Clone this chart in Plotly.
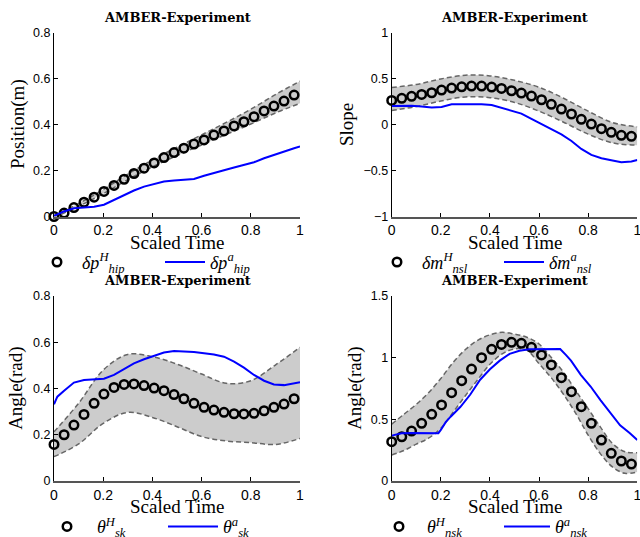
import plotly.graph_objects as go

# ---------------- data ----------------
MARKER_X = [0.000, 0.041, 0.081, 0.122, 0.163, 0.203, 0.244, 0.285, 0.325, 0.366,
            0.407, 0.447, 0.488, 0.528, 0.569, 0.610, 0.650, 0.691, 0.732, 0.772,
            0.813, 0.854, 0.894, 0.935, 0.976]
LINE_X = MARKER_X + [1.0]
BAND_X = [0.0, 0.1, 0.2, 0.3, 0.4, 0.5, 0.6, 0.7, 0.8, 0.9, 1.0]
BAND_X4 = [0.0, 0.05, 0.1, 0.15, 0.2, 0.25, 0.3, 0.35, 0.4, 0.45, 0.5,
           0.55, 0.6, 0.65, 0.7, 0.75, 0.8, 0.85, 0.9, 0.95, 1.0]

# panel 1 : hip position
hip_human = [0.000, 0.015, 0.039, 0.062, 0.084, 0.109, 0.135, 0.162, 0.187, 0.210,
             0.233, 0.256, 0.278, 0.297, 0.315, 0.333, 0.354, 0.372, 0.394, 0.412,
             0.434, 0.459, 0.480, 0.502, 0.528]
hip_upper = [0.004, 0.056, 0.117, 0.184, 0.246, 0.301, 0.355, 0.409, 0.466, 0.530, 0.588]
hip_lower = [-0.004, 0.044, 0.099, 0.160, 0.216, 0.265, 0.311, 0.357, 0.402, 0.450, 0.492]
hip_amber = [0.003, 0.022, 0.036, 0.039, 0.042, 0.051, 0.072, 0.094, 0.113, 0.130,
             0.142, 0.152, 0.156, 0.158, 0.163, 0.177, 0.190, 0.201, 0.213, 0.224,
             0.236, 0.253, 0.268, 0.282, 0.297, 0.304]

# panel 2 : non-stance slope
nsl_human = [0.262, 0.284, 0.306, 0.327, 0.345, 0.374, 0.396, 0.410, 0.418, 0.418,
             0.407, 0.392, 0.367, 0.342, 0.309, 0.269, 0.219, 0.168, 0.114, 0.056,
             0.005, -0.045, -0.085, -0.118, -0.128]
nsl_upper = [0.403, 0.435, 0.495, 0.536, 0.528, 0.480, 0.405, 0.285, 0.145, 0.020, -0.025]
nsl_lower = [0.153, 0.195, 0.255, 0.300, 0.292, 0.240, 0.145, 0.025, -0.105, -0.200, -0.225]
nsl_amber = [0.200, 0.204, 0.204, 0.197, 0.186, 0.190, 0.219, 0.219, 0.222, 0.219,
             0.212, 0.183, 0.154, 0.118, 0.060, 0.005, -0.052, -0.107, -0.179, -0.266,
             -0.331, -0.367, -0.389, -0.410, -0.403, -0.385]

# panel 3 : stance knee
sk_human = [0.157, 0.199, 0.241, 0.287, 0.335, 0.375, 0.404, 0.417, 0.419, 0.412,
            0.401, 0.390, 0.373, 0.355, 0.335, 0.318, 0.306, 0.296, 0.290, 0.289,
            0.292, 0.303, 0.318, 0.332, 0.355]
sk_upper = [0.212, 0.335, 0.479, 0.547, 0.537, 0.505, 0.462, 0.422, 0.433, 0.501, 0.578]
sk_lower = [0.104, 0.159, 0.248, 0.296, 0.274, 0.234, 0.191, 0.172, 0.165, 0.157, 0.183]
SK_LINE_X = [0.0, 0.0136] + MARKER_X[1:] + [1.0]
sk_amber = [0.331, 0.364, 0.390, 0.425, 0.436, 0.439, 0.442, 0.458, 0.484, 0.508,
            0.526, 0.540, 0.555, 0.562, 0.560, 0.557, 0.552, 0.547, 0.537, 0.516,
            0.490, 0.458, 0.433, 0.417, 0.414, 0.422, 0.426]

# panel 4 : non-stance knee
nsk_human = [0.317, 0.357, 0.403, 0.466, 0.539, 0.615, 0.715, 0.812, 0.907, 0.999,
             1.067, 1.107, 1.124, 1.116, 1.083, 1.021, 0.940, 0.837, 0.723, 0.601,
             0.466, 0.330, 0.222, 0.160, 0.135]
nsk_upper = [0.46, 0.54, 0.62, 0.715, 0.83, 0.96, 1.065, 1.14, 1.185, 1.205, 1.19,
             1.165, 1.11, 1.00, 0.88, 0.73, 0.585, 0.435, 0.30, 0.235, 0.227]
nsk_lower = [0.209, 0.245, 0.297, 0.345, 0.426, 0.556, 0.69, 0.82, 0.945, 1.03, 1.07,
             1.06, 0.95, 0.835, 0.70, 0.545, 0.37, 0.218, 0.11, 0.06, 0.07]
NSK_LINE_X = [0.0, 0.04, 0.08, 0.12, 0.16, 0.19, 0.20, 0.22, 0.24, 0.28, 0.32, 0.36,
              0.40, 0.44, 0.48, 0.52, 0.56, 0.60, 0.64, 0.686, 0.71, 0.73, 0.77,
              0.81, 0.85, 0.89, 0.93, 0.97, 1.0]
nsk_amber = [0.366, 0.385, 0.387, 0.385, 0.384, 0.386, 0.412, 0.475, 0.520, 0.600,
             0.700, 0.820, 0.905, 0.975, 1.030, 1.055, 1.068, 1.070, 1.070, 1.070,
             1.020, 0.975, 0.860, 0.765, 0.655, 0.550, 0.450, 0.385, 0.330]

X_TICKS = [0, 0.2, 0.4, 0.6, 0.8, 1]
TITLE = "AMBER-Experiment"
XLABEL = "Scaled Time"

panels = [
    dict(band_x=BAND_X, upper=hip_upper, lower=hip_lower, human=hip_human,
         line_x=LINE_X, amber=hip_amber, yrange=[0, 0.8], yticks=[0, 0.2, 0.4, 0.6, 0.8],
         ylabel="Position(m)",
         names=("<i>δp</i><sup><i>H</i></sup><sub><i>hip</i></sub>",
                "<i>δp</i><sup><i>a</i></sup><sub><i>hip</i></sub>")),
    dict(band_x=BAND_X, upper=nsl_upper, lower=nsl_lower, human=nsl_human,
         line_x=LINE_X, amber=nsl_amber, yrange=[-1, 1], yticks=[-1, -0.5, 0, 0.5, 1],
         ylabel="Slope",
         names=("<i>δm</i><sup><i>H</i></sup><sub><i>nsl</i></sub>",
                "<i>δm</i><sup><i>a</i></sup><sub><i>nsl</i></sub>")),
    dict(band_x=BAND_X, upper=sk_upper, lower=sk_lower, human=sk_human,
         line_x=SK_LINE_X, amber=sk_amber, yrange=[0, 0.8], yticks=[0, 0.2, 0.4, 0.6, 0.8],
         ylabel="Angle(rad)",
         names=("<i>θ</i><sup><i>H</i></sup><sub><i>sk</i></sub>",
                "<i>θ</i><sup><i>a</i></sup><sub><i>sk</i></sub>")),
    dict(band_x=BAND_X4, upper=nsk_upper, lower=nsk_lower, human=nsk_human,
         line_x=NSK_LINE_X, amber=nsk_amber, yrange=[0, 1.5], yticks=[0, 0.5, 1, 1.5],
         ylabel="Angle(rad)",
         names=("<i>θ</i><sup><i>H</i></sup><sub><i>nsk</i></sub>",
                "<i>θ</i><sup><i>a</i></sup><sub><i>nsk</i></sub>")),
]

# ---------------- layout geometry (page pixels) ----------------
W, H = 640, 537
cols = [(54, 300), (391.7, 637.3)]
rows = [(32.5, 216.5), (296, 480.7)]
ylabel_x = [17.5, 346.5, 16.5, 355.5]
legend_x = [32, 372, 37, 371]
legend_y = [262.3, 262.3, 526.7, 526.7]
legend_item = [40, 40, 50, 46]
legend_entry = [73, 72, 61, 67]

def px(x):
    return x / W

def py(y):
    return 1 - y / H

fig = go.Figure()
annotations = []
layout = {}

for i, p in enumerate(panels):
    r, c = divmod(i, 2)
    n = "" if i == 0 else str(i + 1)
    xa, ya = "x" + n, "y" + n
    leg = "legend" + n
    band_line = dict(color="#666666", width=1.5, dash="5px,3px", shape="spline")
    fig.add_trace(go.Scatter(x=p["band_x"], y=p["lower"], mode="lines", line=band_line,
                             xaxis=xa, yaxis=ya, showlegend=False, hoverinfo="skip"))
    fig.add_trace(go.Scatter(x=p["band_x"], y=p["upper"], mode="lines", line=band_line,
                             fill="tonexty", fillcolor="#cccccc",
                             xaxis=xa, yaxis=ya, showlegend=False, hoverinfo="skip"))
    fig.add_trace(go.Scatter(x=MARKER_X, y=p["human"], mode="markers", name=p["names"][0],
                             marker=dict(symbol="circle-open", size=8.5, color="black",
                                         line=dict(width=2.5, color="black")),
                             cliponaxis=False, xaxis=xa, yaxis=ya, legend=leg))
    fig.add_trace(go.Scatter(x=p["line_x"], y=p["amber"], mode="lines", name=p["names"][1],
                             line=dict(color="#0000ff", width=2),
                             xaxis=xa, yaxis=ya, legend=leg))

    x0, x1 = cols[c]
    y0, y1 = rows[r]
    layout["xaxis" + n] = dict(
        domain=[px(x0), px(x1)], anchor=ya, range=[0, 1], tickvals=X_TICKS,
        ticks="inside", ticklen=4, tickcolor="black", showgrid=False, zeroline=False,
        showline=True, linecolor="#555555", linewidth=2, ticklabeloverflow="allow",
        tickfont=dict(family="Liberation Sans", size=14, color="black"))
    layout["yaxis" + n] = dict(
        domain=[py(y1), py(y0)], anchor=xa, range=p["yrange"], tickvals=p["yticks"],
        ticks="inside", ticklen=4, tickcolor="black", showgrid=False, zeroline=False,
        showline=True, linecolor="black", linewidth=1,
        tickfont=dict(family="Liberation Sans", size=12.5, color="black"))
    layout[leg] = dict(
        x=px(legend_x[i]), y=py(legend_y[i]), xanchor="left", yanchor="middle",
        orientation="h", itemwidth=legend_item[i], entrywidth=legend_entry[i],
        traceorder="normal", bgcolor="rgba(0,0,0,0)",
        font=dict(family="Liberation Serif", size=18, color="black"))

    cx = (x0 + x1) / 2
    annotations.append(dict(text="<b>" + TITLE + "</b>", x=px(cx), y=py(18 if r == 0 else 280),
                            xref="paper", yref="paper", showarrow=False,
                            xanchor="center", yanchor="middle",
                            font=dict(family="DejaVu Serif", size=13, color="black")))
    annotations.append(dict(text=XLABEL, x=px(cx), y=py(y1 + 26), xref="paper", yref="paper",
                            showarrow=False, xanchor="center", yanchor="middle",
                            font=dict(family="Liberation Serif", size=19, color="black")))
    annotations.append(dict(text=p["ylabel"], x=px(ylabel_x[i]), y=py((y0 + y1) / 2),
                            xref="paper", yref="paper", showarrow=False, textangle=-90,
                            xanchor="center", yanchor="middle",
                            font=dict(family="Liberation Serif", size=19, color="black")))

fig.update_layout(width=W, height=H, margin=dict(l=0, r=0, t=0, b=0, autoexpand=False),
                  paper_bgcolor="white", plot_bgcolor="white",
                  annotations=annotations, **layout)

# remove the default page margin so the 640x537 figure fills the window exactly
fig.write_html("out.html", config={"displayModeBar": False},
               post_script="document.body.style.margin='0';document.body.style.overflow='hidden';")
